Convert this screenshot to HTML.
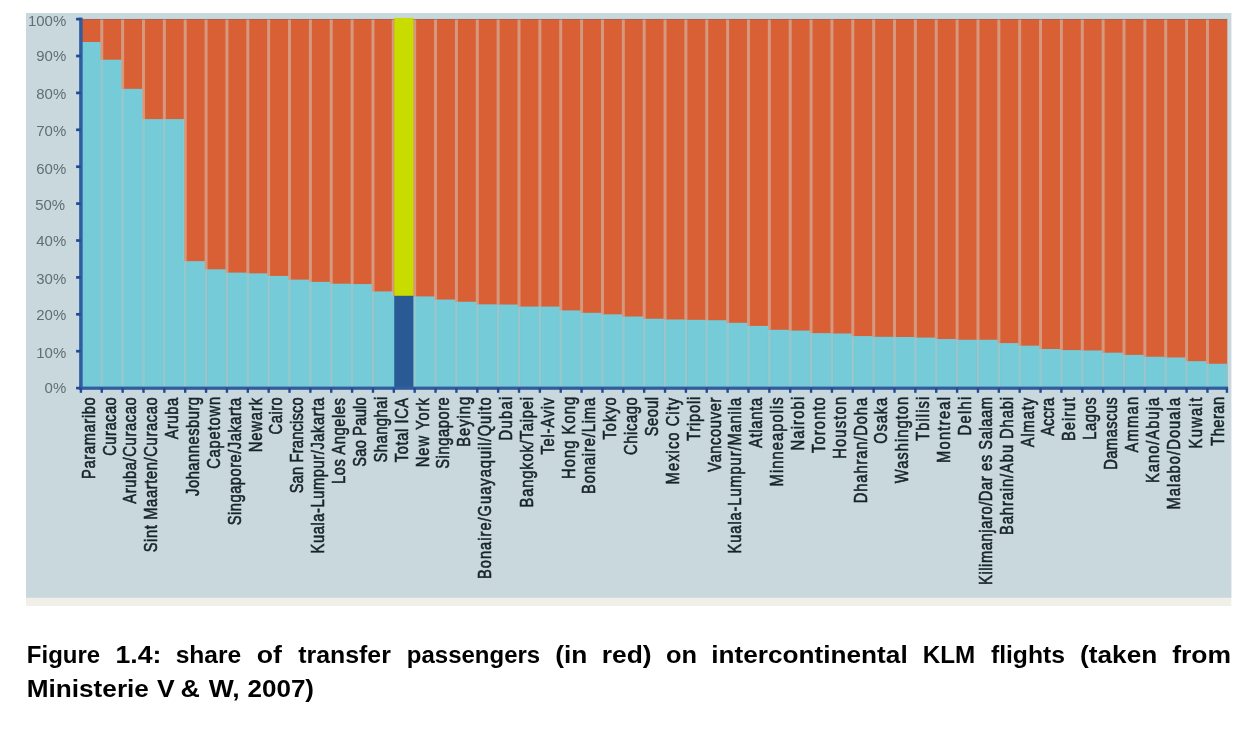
<!DOCTYPE html>
<html lang="en">
<head>
<meta charset="utf-8">
<title>Figure 1.4: share of transfer passengers on intercontinental KLM flights</title>
<style>
html,body{margin:0;padding:0;background:#fff;}
body{width:1255px;height:733px;position:relative;overflow:hidden;font-family:"Liberation Sans",sans-serif;}
svg text{white-space:pre;}
</style>
</head>
<body>
<svg width="1255" height="733" viewBox="0 0 1255 733" style="position:absolute;left:0;top:0;display:block">
<defs><filter id="b" x="-5%" y="-5%" width="110%" height="110%"><feGaussianBlur stdDeviation="0.55"/></filter><filter id="bt" x="-20%" y="-20%" width="140%" height="140%"><feGaussianBlur stdDeviation="0.6"/></filter></defs>
<rect x="26" y="13" width="1205.4" height="584.9" fill="#c8d8dc"/>
<rect x="26" y="597.9" width="1205.4" height="8.1" fill="#f0efe8"/>
<g filter="url(#b)">
<rect x="80.90" y="19.10" width="1146.41" height="369.00" fill="#d95f35"/>
<rect x="80.90" y="41.98" width="19.66" height="346.12" fill="#74cbd8"/>
<rect x="102.96" y="59.69" width="18.46" height="328.41" fill="#74cbd8"/>
<rect x="123.82" y="88.84" width="18.46" height="299.26" fill="#74cbd8"/>
<rect x="144.69" y="119.10" width="18.46" height="269.00" fill="#74cbd8"/>
<rect x="165.55" y="119.10" width="18.46" height="269.00" fill="#74cbd8"/>
<rect x="186.41" y="261.16" width="18.46" height="126.94" fill="#74cbd8"/>
<rect x="207.27" y="269.28" width="18.46" height="118.82" fill="#74cbd8"/>
<rect x="228.13" y="272.60" width="18.46" height="115.50" fill="#74cbd8"/>
<rect x="249.00" y="273.34" width="18.46" height="114.76" fill="#74cbd8"/>
<rect x="269.86" y="275.92" width="18.46" height="112.18" fill="#74cbd8"/>
<rect x="290.72" y="279.61" width="18.46" height="108.49" fill="#74cbd8"/>
<rect x="311.58" y="281.83" width="18.46" height="106.27" fill="#74cbd8"/>
<rect x="332.44" y="283.67" width="18.46" height="104.43" fill="#74cbd8"/>
<rect x="353.31" y="284.04" width="18.46" height="104.06" fill="#74cbd8"/>
<rect x="374.17" y="291.42" width="18.46" height="96.68" fill="#74cbd8"/>
<rect x="415.89" y="296.40" width="18.46" height="91.70" fill="#74cbd8"/>
<rect x="436.75" y="299.54" width="18.46" height="88.56" fill="#74cbd8"/>
<rect x="457.62" y="301.75" width="18.46" height="86.35" fill="#74cbd8"/>
<rect x="478.48" y="304.34" width="18.46" height="83.76" fill="#74cbd8"/>
<rect x="499.34" y="304.52" width="18.46" height="83.58" fill="#74cbd8"/>
<rect x="520.20" y="306.55" width="18.46" height="81.55" fill="#74cbd8"/>
<rect x="541.06" y="306.55" width="18.46" height="81.55" fill="#74cbd8"/>
<rect x="561.93" y="310.39" width="18.46" height="77.71" fill="#74cbd8"/>
<rect x="582.79" y="312.82" width="18.46" height="75.28" fill="#74cbd8"/>
<rect x="603.65" y="314.30" width="18.46" height="73.80" fill="#74cbd8"/>
<rect x="624.51" y="316.51" width="18.46" height="71.59" fill="#74cbd8"/>
<rect x="645.37" y="318.73" width="18.46" height="69.37" fill="#74cbd8"/>
<rect x="666.24" y="319.47" width="18.46" height="68.63" fill="#74cbd8"/>
<rect x="687.10" y="319.84" width="18.46" height="68.26" fill="#74cbd8"/>
<rect x="707.96" y="320.20" width="18.46" height="67.90" fill="#74cbd8"/>
<rect x="728.82" y="322.79" width="18.46" height="65.31" fill="#74cbd8"/>
<rect x="749.68" y="325.92" width="18.46" height="62.18" fill="#74cbd8"/>
<rect x="770.55" y="329.80" width="18.46" height="58.30" fill="#74cbd8"/>
<rect x="791.41" y="330.54" width="18.46" height="57.56" fill="#74cbd8"/>
<rect x="812.27" y="333.12" width="18.46" height="54.98" fill="#74cbd8"/>
<rect x="833.13" y="333.49" width="18.46" height="54.61" fill="#74cbd8"/>
<rect x="853.99" y="336.07" width="18.46" height="52.03" fill="#74cbd8"/>
<rect x="874.86" y="336.81" width="18.46" height="51.29" fill="#74cbd8"/>
<rect x="895.72" y="336.99" width="18.46" height="51.11" fill="#74cbd8"/>
<rect x="916.58" y="337.55" width="18.46" height="50.55" fill="#74cbd8"/>
<rect x="937.44" y="339.02" width="18.46" height="49.08" fill="#74cbd8"/>
<rect x="958.30" y="339.76" width="18.46" height="48.34" fill="#74cbd8"/>
<rect x="979.17" y="339.76" width="18.46" height="48.34" fill="#74cbd8"/>
<rect x="1000.03" y="343.08" width="18.46" height="45.02" fill="#74cbd8"/>
<rect x="1020.89" y="345.67" width="18.46" height="42.44" fill="#74cbd8"/>
<rect x="1041.75" y="348.99" width="18.46" height="39.11" fill="#74cbd8"/>
<rect x="1062.61" y="350.09" width="18.46" height="38.01" fill="#74cbd8"/>
<rect x="1083.48" y="350.46" width="18.46" height="37.64" fill="#74cbd8"/>
<rect x="1104.34" y="352.68" width="18.46" height="35.42" fill="#74cbd8"/>
<rect x="1125.20" y="354.89" width="18.46" height="33.21" fill="#74cbd8"/>
<rect x="1146.06" y="356.74" width="18.46" height="31.37" fill="#74cbd8"/>
<rect x="1166.92" y="357.47" width="18.46" height="30.63" fill="#74cbd8"/>
<rect x="1187.79" y="361.16" width="18.46" height="26.94" fill="#74cbd8"/>
<rect x="1208.65" y="363.75" width="18.66" height="24.35" fill="#74cbd8"/>
<rect x="99.96" y="59.69" width="3.60" height="328.41" fill="#74cbd8"/>
<rect x="100.26" y="19.10" width="3.0" height="40.59" fill="rgba(210,212,204,0.5)"/>
<rect x="100.56" y="59.69" width="2.4" height="328.41" fill="rgba(190,195,190,0.45)"/>
<rect x="120.82" y="88.84" width="3.60" height="299.26" fill="#74cbd8"/>
<rect x="121.12" y="19.10" width="3.0" height="69.74" fill="rgba(210,212,204,0.5)"/>
<rect x="121.42" y="88.84" width="2.4" height="299.26" fill="rgba(190,195,190,0.45)"/>
<rect x="141.69" y="119.10" width="3.60" height="269.00" fill="#74cbd8"/>
<rect x="141.99" y="19.10" width="3.0" height="100.00" fill="rgba(210,212,204,0.5)"/>
<rect x="142.29" y="119.10" width="2.4" height="269.00" fill="rgba(190,195,190,0.45)"/>
<rect x="162.55" y="119.10" width="3.60" height="269.00" fill="#74cbd8"/>
<rect x="162.85" y="19.10" width="3.0" height="100.00" fill="rgba(210,212,204,0.5)"/>
<rect x="163.15" y="119.10" width="2.4" height="269.00" fill="rgba(190,195,190,0.45)"/>
<rect x="183.41" y="261.16" width="3.60" height="126.94" fill="#74cbd8"/>
<rect x="183.71" y="19.10" width="3.0" height="242.06" fill="rgba(210,212,204,0.5)"/>
<rect x="184.01" y="261.16" width="2.4" height="126.94" fill="rgba(190,195,190,0.45)"/>
<rect x="204.27" y="269.28" width="3.60" height="118.82" fill="#74cbd8"/>
<rect x="204.57" y="19.10" width="3.0" height="250.18" fill="rgba(210,212,204,0.5)"/>
<rect x="204.87" y="269.28" width="2.4" height="118.82" fill="rgba(190,195,190,0.45)"/>
<rect x="225.13" y="272.60" width="3.60" height="115.50" fill="#74cbd8"/>
<rect x="225.43" y="19.10" width="3.0" height="253.50" fill="rgba(210,212,204,0.5)"/>
<rect x="225.73" y="272.60" width="2.4" height="115.50" fill="rgba(190,195,190,0.45)"/>
<rect x="246.00" y="273.34" width="3.60" height="114.76" fill="#74cbd8"/>
<rect x="246.30" y="19.10" width="3.0" height="254.24" fill="rgba(210,212,204,0.5)"/>
<rect x="246.60" y="273.34" width="2.4" height="114.76" fill="rgba(190,195,190,0.45)"/>
<rect x="266.86" y="275.92" width="3.60" height="112.18" fill="#74cbd8"/>
<rect x="267.16" y="19.10" width="3.0" height="256.82" fill="rgba(210,212,204,0.5)"/>
<rect x="267.46" y="275.92" width="2.4" height="112.18" fill="rgba(190,195,190,0.45)"/>
<rect x="287.72" y="279.61" width="3.60" height="108.49" fill="#74cbd8"/>
<rect x="288.02" y="19.10" width="3.0" height="260.51" fill="rgba(210,212,204,0.5)"/>
<rect x="288.32" y="279.61" width="2.4" height="108.49" fill="rgba(190,195,190,0.45)"/>
<rect x="308.58" y="281.83" width="3.60" height="106.27" fill="#74cbd8"/>
<rect x="308.88" y="19.10" width="3.0" height="262.73" fill="rgba(210,212,204,0.5)"/>
<rect x="309.18" y="281.83" width="2.4" height="106.27" fill="rgba(190,195,190,0.45)"/>
<rect x="329.44" y="283.67" width="3.60" height="104.43" fill="#74cbd8"/>
<rect x="329.74" y="19.10" width="3.0" height="264.57" fill="rgba(210,212,204,0.5)"/>
<rect x="330.04" y="283.67" width="2.4" height="104.43" fill="rgba(190,195,190,0.45)"/>
<rect x="350.31" y="284.04" width="3.60" height="104.06" fill="#74cbd8"/>
<rect x="350.61" y="19.10" width="3.0" height="264.94" fill="rgba(210,212,204,0.5)"/>
<rect x="350.91" y="284.04" width="2.4" height="104.06" fill="rgba(190,195,190,0.45)"/>
<rect x="371.17" y="291.42" width="3.60" height="96.68" fill="#74cbd8"/>
<rect x="371.47" y="19.10" width="3.0" height="272.32" fill="rgba(210,212,204,0.5)"/>
<rect x="371.77" y="291.42" width="2.4" height="96.68" fill="rgba(190,195,190,0.45)"/>
<rect x="392.03" y="295.85" width="3.60" height="92.25" fill="#74cbd8"/>
<rect x="391.73" y="19.10" width="2.4" height="276.75" fill="rgba(210,212,204,0.5)"/>
<rect x="412.89" y="296.40" width="3.60" height="91.70" fill="#74cbd8"/>
<rect x="413.19" y="19.10" width="3.0" height="277.30" fill="rgba(210,212,204,0.5)"/>
<rect x="413.49" y="296.40" width="2.4" height="91.70" fill="rgba(190,195,190,0.45)"/>
<rect x="433.75" y="299.54" width="3.60" height="88.56" fill="#74cbd8"/>
<rect x="434.05" y="19.10" width="3.0" height="280.44" fill="rgba(210,212,204,0.5)"/>
<rect x="434.35" y="299.54" width="2.4" height="88.56" fill="rgba(190,195,190,0.45)"/>
<rect x="454.62" y="301.75" width="3.60" height="86.35" fill="#74cbd8"/>
<rect x="454.92" y="19.10" width="3.0" height="282.65" fill="rgba(210,212,204,0.5)"/>
<rect x="455.22" y="301.75" width="2.4" height="86.35" fill="rgba(190,195,190,0.45)"/>
<rect x="475.48" y="304.34" width="3.60" height="83.76" fill="#74cbd8"/>
<rect x="475.78" y="19.10" width="3.0" height="285.24" fill="rgba(210,212,204,0.5)"/>
<rect x="476.08" y="304.34" width="2.4" height="83.76" fill="rgba(190,195,190,0.45)"/>
<rect x="496.34" y="304.52" width="3.60" height="83.58" fill="#74cbd8"/>
<rect x="496.64" y="19.10" width="3.0" height="285.42" fill="rgba(210,212,204,0.5)"/>
<rect x="496.94" y="304.52" width="2.4" height="83.58" fill="rgba(190,195,190,0.45)"/>
<rect x="517.20" y="306.55" width="3.60" height="81.55" fill="#74cbd8"/>
<rect x="517.50" y="19.10" width="3.0" height="287.45" fill="rgba(210,212,204,0.5)"/>
<rect x="517.80" y="306.55" width="2.4" height="81.55" fill="rgba(190,195,190,0.45)"/>
<rect x="538.06" y="306.55" width="3.60" height="81.55" fill="#74cbd8"/>
<rect x="538.36" y="19.10" width="3.0" height="287.45" fill="rgba(210,212,204,0.5)"/>
<rect x="538.66" y="306.55" width="2.4" height="81.55" fill="rgba(190,195,190,0.45)"/>
<rect x="558.93" y="310.39" width="3.60" height="77.71" fill="#74cbd8"/>
<rect x="559.23" y="19.10" width="3.0" height="291.29" fill="rgba(210,212,204,0.5)"/>
<rect x="559.53" y="310.39" width="2.4" height="77.71" fill="rgba(190,195,190,0.45)"/>
<rect x="579.79" y="312.82" width="3.60" height="75.28" fill="#74cbd8"/>
<rect x="580.09" y="19.10" width="3.0" height="293.72" fill="rgba(210,212,204,0.5)"/>
<rect x="580.39" y="312.82" width="2.4" height="75.28" fill="rgba(190,195,190,0.45)"/>
<rect x="600.65" y="314.30" width="3.60" height="73.80" fill="#74cbd8"/>
<rect x="600.95" y="19.10" width="3.0" height="295.20" fill="rgba(210,212,204,0.5)"/>
<rect x="601.25" y="314.30" width="2.4" height="73.80" fill="rgba(190,195,190,0.45)"/>
<rect x="621.51" y="316.51" width="3.60" height="71.59" fill="#74cbd8"/>
<rect x="621.81" y="19.10" width="3.0" height="297.41" fill="rgba(210,212,204,0.5)"/>
<rect x="622.11" y="316.51" width="2.4" height="71.59" fill="rgba(190,195,190,0.45)"/>
<rect x="642.37" y="318.73" width="3.60" height="69.37" fill="#74cbd8"/>
<rect x="642.67" y="19.10" width="3.0" height="299.63" fill="rgba(210,212,204,0.5)"/>
<rect x="642.97" y="318.73" width="2.4" height="69.37" fill="rgba(190,195,190,0.45)"/>
<rect x="663.24" y="319.47" width="3.60" height="68.63" fill="#74cbd8"/>
<rect x="663.54" y="19.10" width="3.0" height="300.37" fill="rgba(210,212,204,0.5)"/>
<rect x="663.84" y="319.47" width="2.4" height="68.63" fill="rgba(190,195,190,0.45)"/>
<rect x="684.10" y="319.84" width="3.60" height="68.26" fill="#74cbd8"/>
<rect x="684.40" y="19.10" width="3.0" height="300.74" fill="rgba(210,212,204,0.5)"/>
<rect x="684.70" y="319.84" width="2.4" height="68.26" fill="rgba(190,195,190,0.45)"/>
<rect x="704.96" y="320.20" width="3.60" height="67.90" fill="#74cbd8"/>
<rect x="705.26" y="19.10" width="3.0" height="301.10" fill="rgba(210,212,204,0.5)"/>
<rect x="705.56" y="320.20" width="2.4" height="67.90" fill="rgba(190,195,190,0.45)"/>
<rect x="725.82" y="322.79" width="3.60" height="65.31" fill="#74cbd8"/>
<rect x="726.12" y="19.10" width="3.0" height="303.69" fill="rgba(210,212,204,0.5)"/>
<rect x="726.42" y="322.79" width="2.4" height="65.31" fill="rgba(190,195,190,0.45)"/>
<rect x="746.68" y="325.92" width="3.60" height="62.18" fill="#74cbd8"/>
<rect x="746.98" y="19.10" width="3.0" height="306.82" fill="rgba(210,212,204,0.5)"/>
<rect x="747.28" y="325.92" width="2.4" height="62.18" fill="rgba(190,195,190,0.45)"/>
<rect x="767.55" y="329.80" width="3.60" height="58.30" fill="#74cbd8"/>
<rect x="767.85" y="19.10" width="3.0" height="310.70" fill="rgba(210,212,204,0.5)"/>
<rect x="768.15" y="329.80" width="2.4" height="58.30" fill="rgba(190,195,190,0.45)"/>
<rect x="788.41" y="330.54" width="3.60" height="57.56" fill="#74cbd8"/>
<rect x="788.71" y="19.10" width="3.0" height="311.44" fill="rgba(210,212,204,0.5)"/>
<rect x="789.01" y="330.54" width="2.4" height="57.56" fill="rgba(190,195,190,0.45)"/>
<rect x="809.27" y="333.12" width="3.60" height="54.98" fill="#74cbd8"/>
<rect x="809.57" y="19.10" width="3.0" height="314.02" fill="rgba(210,212,204,0.5)"/>
<rect x="809.87" y="333.12" width="2.4" height="54.98" fill="rgba(190,195,190,0.45)"/>
<rect x="830.13" y="333.49" width="3.60" height="54.61" fill="#74cbd8"/>
<rect x="830.43" y="19.10" width="3.0" height="314.39" fill="rgba(210,212,204,0.5)"/>
<rect x="830.73" y="333.49" width="2.4" height="54.61" fill="rgba(190,195,190,0.45)"/>
<rect x="850.99" y="336.07" width="3.60" height="52.03" fill="#74cbd8"/>
<rect x="851.29" y="19.10" width="3.0" height="316.97" fill="rgba(210,212,204,0.5)"/>
<rect x="851.59" y="336.07" width="2.4" height="52.03" fill="rgba(190,195,190,0.45)"/>
<rect x="871.86" y="336.81" width="3.60" height="51.29" fill="#74cbd8"/>
<rect x="872.16" y="19.10" width="3.0" height="317.71" fill="rgba(210,212,204,0.5)"/>
<rect x="872.46" y="336.81" width="2.4" height="51.29" fill="rgba(190,195,190,0.45)"/>
<rect x="892.72" y="336.99" width="3.60" height="51.11" fill="#74cbd8"/>
<rect x="893.02" y="19.10" width="3.0" height="317.89" fill="rgba(210,212,204,0.5)"/>
<rect x="893.32" y="336.99" width="2.4" height="51.11" fill="rgba(190,195,190,0.45)"/>
<rect x="913.58" y="337.55" width="3.60" height="50.55" fill="#74cbd8"/>
<rect x="913.88" y="19.10" width="3.0" height="318.45" fill="rgba(210,212,204,0.5)"/>
<rect x="914.18" y="337.55" width="2.4" height="50.55" fill="rgba(190,195,190,0.45)"/>
<rect x="934.44" y="339.02" width="3.60" height="49.08" fill="#74cbd8"/>
<rect x="934.74" y="19.10" width="3.0" height="319.92" fill="rgba(210,212,204,0.5)"/>
<rect x="935.04" y="339.02" width="2.4" height="49.08" fill="rgba(190,195,190,0.45)"/>
<rect x="955.30" y="339.76" width="3.60" height="48.34" fill="#74cbd8"/>
<rect x="955.60" y="19.10" width="3.0" height="320.66" fill="rgba(210,212,204,0.5)"/>
<rect x="955.90" y="339.76" width="2.4" height="48.34" fill="rgba(190,195,190,0.45)"/>
<rect x="976.17" y="339.76" width="3.60" height="48.34" fill="#74cbd8"/>
<rect x="976.47" y="19.10" width="3.0" height="320.66" fill="rgba(210,212,204,0.5)"/>
<rect x="976.77" y="339.76" width="2.4" height="48.34" fill="rgba(190,195,190,0.45)"/>
<rect x="997.03" y="343.08" width="3.60" height="45.02" fill="#74cbd8"/>
<rect x="997.33" y="19.10" width="3.0" height="323.98" fill="rgba(210,212,204,0.5)"/>
<rect x="997.63" y="343.08" width="2.4" height="45.02" fill="rgba(190,195,190,0.45)"/>
<rect x="1017.89" y="345.67" width="3.60" height="42.44" fill="#74cbd8"/>
<rect x="1018.19" y="19.10" width="3.0" height="326.56" fill="rgba(210,212,204,0.5)"/>
<rect x="1018.49" y="345.67" width="2.4" height="42.44" fill="rgba(190,195,190,0.45)"/>
<rect x="1038.75" y="348.99" width="3.60" height="39.11" fill="#74cbd8"/>
<rect x="1039.05" y="19.10" width="3.0" height="329.89" fill="rgba(210,212,204,0.5)"/>
<rect x="1039.35" y="348.99" width="2.4" height="39.11" fill="rgba(190,195,190,0.45)"/>
<rect x="1059.61" y="350.09" width="3.60" height="38.01" fill="#74cbd8"/>
<rect x="1059.91" y="19.10" width="3.0" height="330.99" fill="rgba(210,212,204,0.5)"/>
<rect x="1060.21" y="350.09" width="2.4" height="38.01" fill="rgba(190,195,190,0.45)"/>
<rect x="1080.48" y="350.46" width="3.60" height="37.64" fill="#74cbd8"/>
<rect x="1080.78" y="19.10" width="3.0" height="331.36" fill="rgba(210,212,204,0.5)"/>
<rect x="1081.08" y="350.46" width="2.4" height="37.64" fill="rgba(190,195,190,0.45)"/>
<rect x="1101.34" y="352.68" width="3.60" height="35.42" fill="#74cbd8"/>
<rect x="1101.64" y="19.10" width="3.0" height="333.58" fill="rgba(210,212,204,0.5)"/>
<rect x="1101.94" y="352.68" width="2.4" height="35.42" fill="rgba(190,195,190,0.45)"/>
<rect x="1122.20" y="354.89" width="3.60" height="33.21" fill="#74cbd8"/>
<rect x="1122.50" y="19.10" width="3.0" height="335.79" fill="rgba(210,212,204,0.5)"/>
<rect x="1122.80" y="354.89" width="2.4" height="33.21" fill="rgba(190,195,190,0.45)"/>
<rect x="1143.06" y="356.74" width="3.60" height="31.37" fill="#74cbd8"/>
<rect x="1143.36" y="19.10" width="3.0" height="337.63" fill="rgba(210,212,204,0.5)"/>
<rect x="1143.66" y="356.74" width="2.4" height="31.37" fill="rgba(190,195,190,0.45)"/>
<rect x="1163.92" y="357.47" width="3.60" height="30.63" fill="#74cbd8"/>
<rect x="1164.22" y="19.10" width="3.0" height="338.37" fill="rgba(210,212,204,0.5)"/>
<rect x="1164.52" y="357.47" width="2.4" height="30.63" fill="rgba(190,195,190,0.45)"/>
<rect x="1184.79" y="361.16" width="3.60" height="26.94" fill="#74cbd8"/>
<rect x="1185.09" y="19.10" width="3.0" height="342.06" fill="rgba(210,212,204,0.5)"/>
<rect x="1185.39" y="361.16" width="2.4" height="26.94" fill="rgba(190,195,190,0.45)"/>
<rect x="1205.65" y="363.75" width="3.60" height="24.35" fill="#74cbd8"/>
<rect x="1205.95" y="19.10" width="3.0" height="344.65" fill="rgba(210,212,204,0.5)"/>
<rect x="1206.25" y="363.75" width="2.4" height="24.35" fill="rgba(190,195,190,0.45)"/>
<rect x="80.90" y="18.90" width="1146.41" height="1.1" fill="rgba(110,90,100,0.45)"/>
<rect x="394.23" y="17.90" width="19.16" height="277.95" fill="#c9dc00"/>
<rect x="394.23" y="295.85" width="19.16" height="92.25" fill="#2c5a96"/>
<rect x="79.15" y="17.60" width="3.5" height="372.20" fill="#315c9e"/>
<rect x="79.15" y="386.60" width="1148.96" height="3.2" fill="#315c9e"/>
<rect x="76.10" y="386.75" width="4.6" height="2.7" fill="#244a92"/>
<rect x="76.10" y="349.85" width="4.6" height="2.7" fill="#244a92"/>
<rect x="76.10" y="312.95" width="4.6" height="2.7" fill="#244a92"/>
<rect x="76.10" y="276.05" width="4.6" height="2.7" fill="#244a92"/>
<rect x="76.10" y="239.15" width="4.6" height="2.7" fill="#244a92"/>
<rect x="76.10" y="202.25" width="4.6" height="2.7" fill="#244a92"/>
<rect x="76.10" y="165.35" width="4.6" height="2.7" fill="#244a92"/>
<rect x="76.10" y="128.45" width="4.6" height="2.7" fill="#244a92"/>
<rect x="76.10" y="91.55" width="4.6" height="2.7" fill="#244a92"/>
<rect x="76.10" y="54.65" width="4.6" height="2.7" fill="#244a92"/>
<rect x="76.10" y="17.75" width="4.6" height="2.7" fill="#244a92"/>
<rect x="79.70" y="388.10" width="2.4" height="4.7" fill="#244a92"/>
<rect x="100.56" y="388.10" width="2.4" height="4.7" fill="#244a92"/>
<rect x="121.42" y="388.10" width="2.4" height="4.7" fill="#244a92"/>
<rect x="142.29" y="388.10" width="2.4" height="4.7" fill="#244a92"/>
<rect x="163.15" y="388.10" width="2.4" height="4.7" fill="#244a92"/>
<rect x="184.01" y="388.10" width="2.4" height="4.7" fill="#244a92"/>
<rect x="204.87" y="388.10" width="2.4" height="4.7" fill="#244a92"/>
<rect x="225.73" y="388.10" width="2.4" height="4.7" fill="#244a92"/>
<rect x="246.60" y="388.10" width="2.4" height="4.7" fill="#244a92"/>
<rect x="267.46" y="388.10" width="2.4" height="4.7" fill="#244a92"/>
<rect x="288.32" y="388.10" width="2.4" height="4.7" fill="#244a92"/>
<rect x="309.18" y="388.10" width="2.4" height="4.7" fill="#244a92"/>
<rect x="330.04" y="388.10" width="2.4" height="4.7" fill="#244a92"/>
<rect x="350.91" y="388.10" width="2.4" height="4.7" fill="#244a92"/>
<rect x="371.77" y="388.10" width="2.4" height="4.7" fill="#244a92"/>
<rect x="392.63" y="388.10" width="2.4" height="4.7" fill="#244a92"/>
<rect x="413.49" y="388.10" width="2.4" height="4.7" fill="#244a92"/>
<rect x="434.35" y="388.10" width="2.4" height="4.7" fill="#244a92"/>
<rect x="455.22" y="388.10" width="2.4" height="4.7" fill="#244a92"/>
<rect x="476.08" y="388.10" width="2.4" height="4.7" fill="#244a92"/>
<rect x="496.94" y="388.10" width="2.4" height="4.7" fill="#244a92"/>
<rect x="517.80" y="388.10" width="2.4" height="4.7" fill="#244a92"/>
<rect x="538.66" y="388.10" width="2.4" height="4.7" fill="#244a92"/>
<rect x="559.53" y="388.10" width="2.4" height="4.7" fill="#244a92"/>
<rect x="580.39" y="388.10" width="2.4" height="4.7" fill="#244a92"/>
<rect x="601.25" y="388.10" width="2.4" height="4.7" fill="#244a92"/>
<rect x="622.11" y="388.10" width="2.4" height="4.7" fill="#244a92"/>
<rect x="642.97" y="388.10" width="2.4" height="4.7" fill="#244a92"/>
<rect x="663.84" y="388.10" width="2.4" height="4.7" fill="#244a92"/>
<rect x="684.70" y="388.10" width="2.4" height="4.7" fill="#244a92"/>
<rect x="705.56" y="388.10" width="2.4" height="4.7" fill="#244a92"/>
<rect x="726.42" y="388.10" width="2.4" height="4.7" fill="#244a92"/>
<rect x="747.28" y="388.10" width="2.4" height="4.7" fill="#244a92"/>
<rect x="768.15" y="388.10" width="2.4" height="4.7" fill="#244a92"/>
<rect x="789.01" y="388.10" width="2.4" height="4.7" fill="#244a92"/>
<rect x="809.87" y="388.10" width="2.4" height="4.7" fill="#244a92"/>
<rect x="830.73" y="388.10" width="2.4" height="4.7" fill="#244a92"/>
<rect x="851.59" y="388.10" width="2.4" height="4.7" fill="#244a92"/>
<rect x="872.46" y="388.10" width="2.4" height="4.7" fill="#244a92"/>
<rect x="893.32" y="388.10" width="2.4" height="4.7" fill="#244a92"/>
<rect x="914.18" y="388.10" width="2.4" height="4.7" fill="#244a92"/>
<rect x="935.04" y="388.10" width="2.4" height="4.7" fill="#244a92"/>
<rect x="955.90" y="388.10" width="2.4" height="4.7" fill="#244a92"/>
<rect x="976.77" y="388.10" width="2.4" height="4.7" fill="#244a92"/>
<rect x="997.63" y="388.10" width="2.4" height="4.7" fill="#244a92"/>
<rect x="1018.49" y="388.10" width="2.4" height="4.7" fill="#244a92"/>
<rect x="1039.35" y="388.10" width="2.4" height="4.7" fill="#244a92"/>
<rect x="1060.21" y="388.10" width="2.4" height="4.7" fill="#244a92"/>
<rect x="1081.08" y="388.10" width="2.4" height="4.7" fill="#244a92"/>
<rect x="1101.94" y="388.10" width="2.4" height="4.7" fill="#244a92"/>
<rect x="1122.80" y="388.10" width="2.4" height="4.7" fill="#244a92"/>
<rect x="1143.66" y="388.10" width="2.4" height="4.7" fill="#244a92"/>
<rect x="1164.52" y="388.10" width="2.4" height="4.7" fill="#244a92"/>
<rect x="1185.39" y="388.10" width="2.4" height="4.7" fill="#244a92"/>
<rect x="1206.25" y="388.10" width="2.4" height="4.7" fill="#244a92"/>
<rect x="1225.71" y="388.10" width="2.4" height="4.7" fill="#244a92"/>
</g>
<g font-family="'Liberation Sans', sans-serif" font-size="15.2" fill="#5f6f75" filter="url(#bt)">
<text transform="translate(44.57 393.40) scale(0.9850 1)">0%</text>
<text transform="translate(36.25 357.80) scale(0.9850 1)">10%</text>
<text transform="translate(36.25 320.00) scale(0.9850 1)">20%</text>
<text transform="translate(36.25 283.70) scale(0.9850 1)">30%</text>
<text transform="translate(36.25 246.40) scale(0.9850 1)">40%</text>
<text transform="translate(35.15 210.00) scale(0.9850 1)">50%</text>
<text transform="translate(36.25 174.00) scale(0.9850 1)">60%</text>
<text transform="translate(36.25 135.70) scale(0.9850 1)">70%</text>
<text transform="translate(36.25 98.53) scale(0.9850 1)">80%</text>
<text transform="translate(36.25 61.20) scale(0.9850 1)">90%</text>
<text transform="translate(27.92 25.90) scale(0.9850 1)">100%</text>
</g>
<g font-family="'Liberation Sans', sans-serif" font-size="18.6" font-weight="normal" fill="#16232a" stroke="#16232a" stroke-width="0.6" filter="url(#bt)">
<text transform="translate(94.73 478.88) rotate(-90) scale(0.7900 1)" letter-spacing="0.806">Paramaribo</text>
<text transform="translate(115.59 455.83) rotate(-90) scale(0.7900 1)" letter-spacing="0.654">Curacao</text>
<text transform="translate(136.46 503.80) rotate(-90) scale(0.7900 1)" letter-spacing="0.820">Aruba/Curacao</text>
<text transform="translate(157.32 552.36) rotate(-90) scale(0.7900 1)" letter-spacing="0.815">Sint Maarten/Curacao</text>
<text transform="translate(178.18 439.30) rotate(-90) scale(0.7900 1)" letter-spacing="0.707">Aruba</text>
<text transform="translate(199.04 495.92) rotate(-90) scale(0.7900 1)" letter-spacing="0.677">Johannesburg</text>
<text transform="translate(219.90 468.83) rotate(-90) scale(0.7900 1)" letter-spacing="1.043">Capetown</text>
<text transform="translate(240.76 525.26) rotate(-90) scale(0.7900 1)" letter-spacing="0.644">Singapore/Jakarta</text>
<text transform="translate(261.63 452.28) rotate(-90) scale(0.7900 1)" letter-spacing="1.163">Newark</text>
<text transform="translate(282.49 434.43) rotate(-90) scale(0.7900 1)" letter-spacing="0.673">Cairo</text>
<text transform="translate(303.35 493.36) rotate(-90) scale(0.7900 1)" letter-spacing="0.237">San Francisco</text>
<text transform="translate(324.21 553.38) rotate(-90) scale(0.7900 1)" letter-spacing="0.730">Kuala-Lumpur/Jakarta</text>
<text transform="translate(345.07 483.88) rotate(-90) scale(0.7900 1)" letter-spacing="0.723">Los Angeles</text>
<text transform="translate(365.94 466.76) rotate(-90) scale(0.7900 1)" letter-spacing="0.278">Sao Paulo</text>
<text transform="translate(386.80 462.56) rotate(-90) scale(0.7900 1)" letter-spacing="0.660">Shanghai</text>
<text transform="translate(407.66 462.19) rotate(-90) scale(0.7900 1)" letter-spacing="0.749">Total ICA</text>
<text transform="translate(428.52 467.28) rotate(-90) scale(0.7900 1)" letter-spacing="1.277">New York</text>
<text transform="translate(449.38 468.76) rotate(-90) scale(0.7900 1)" letter-spacing="0.724">Singapore</text>
<text transform="translate(470.25 446.68) rotate(-90) scale(0.7900 1)" letter-spacing="1.227">Beying</text>
<text transform="translate(491.11 578.98) rotate(-90) scale(0.7900 1)" letter-spacing="1.248">Bonaire/Guayaquil/Quito</text>
<text transform="translate(511.97 440.48) rotate(-90) scale(0.7900 1)" letter-spacing="1.668">Dubai</text>
<text transform="translate(532.83 507.48) rotate(-90) scale(0.7900 1)" letter-spacing="1.072">Bangkok/Taipei</text>
<text transform="translate(553.69 454.59) rotate(-90) scale(0.7900 1)" letter-spacing="1.017">Tel-Aviv</text>
<text transform="translate(574.56 478.88) rotate(-90) scale(0.7900 1)" letter-spacing="1.337">Hong Kong</text>
<text transform="translate(595.42 493.88) rotate(-90) scale(0.7900 1)" letter-spacing="1.086">Bonaire/Lima</text>
<text transform="translate(616.28 439.59) rotate(-90) scale(0.7900 1)" letter-spacing="1.270">Tokyo</text>
<text transform="translate(637.14 455.03) rotate(-90) scale(0.7900 1)" letter-spacing="0.829">Chicago</text>
<text transform="translate(658.00 436.16) rotate(-90) scale(0.7900 1)" letter-spacing="0.536">Seoul</text>
<text transform="translate(678.87 484.38) rotate(-90) scale(0.7900 1)" letter-spacing="1.347">Mexico City</text>
<text transform="translate(699.73 440.79) rotate(-90) scale(0.7900 1)" letter-spacing="0.953">Tripoli</text>
<text transform="translate(720.59 471.90) rotate(-90) scale(0.7900 1)" letter-spacing="0.812">Vancouver</text>
<text transform="translate(741.45 553.38) rotate(-90) scale(0.7900 1)" letter-spacing="1.115">Kuala-Lumpur/Manila</text>
<text transform="translate(762.31 448.00) rotate(-90) scale(0.7900 1)" letter-spacing="0.928">Atlanta</text>
<text transform="translate(783.18 486.38) rotate(-90) scale(0.7900 1)" letter-spacing="1.351">Minneapolis</text>
<text transform="translate(804.04 450.48) rotate(-90) scale(0.7900 1)" letter-spacing="1.500">Nairobi</text>
<text transform="translate(824.90 452.89) rotate(-90) scale(0.7900 1)" letter-spacing="1.411">Toronto</text>
<text transform="translate(845.76 458.78) rotate(-90) scale(0.7900 1)" letter-spacing="1.507">Houston</text>
<text transform="translate(866.62 503.18) rotate(-90) scale(0.7900 1)" letter-spacing="1.121">Dhahran/Doha</text>
<text transform="translate(887.49 443.66) rotate(-90) scale(0.7900 1)" letter-spacing="1.056">Osaka</text>
<text transform="translate(908.35 483.20) rotate(-90) scale(0.7900 1)" letter-spacing="1.301">Washington</text>
<text transform="translate(929.21 440.79) rotate(-90) scale(0.7900 1)" letter-spacing="1.356">Tbilisi</text>
<text transform="translate(950.07 463.08) rotate(-90) scale(0.7900 1)" letter-spacing="1.631">Montreal</text>
<text transform="translate(970.93 435.38) rotate(-90) scale(0.7900 1)" letter-spacing="1.607">Delhi</text>
<text transform="translate(991.80 584.98) rotate(-90) scale(0.7900 1)" letter-spacing="0.747">Kilimanjaro/Dar es Salaam</text>
<text transform="translate(1012.66 534.98) rotate(-90) scale(0.7900 1)" letter-spacing="1.172">Bahrain/Abu Dhabi</text>
<text transform="translate(1033.52 447.30) rotate(-90) scale(0.7900 1)" letter-spacing="1.163">Almaty</text>
<text transform="translate(1054.38 436.00) rotate(-90) scale(0.7900 1)" letter-spacing="0.185">Accra</text>
<text transform="translate(1075.25 440.98) rotate(-90) scale(0.7900 1)" letter-spacing="1.223">Beirut</text>
<text transform="translate(1096.11 439.68) rotate(-90) scale(0.7900 1)" letter-spacing="0.745">Lagos</text>
<text transform="translate(1116.97 469.78) rotate(-90) scale(0.7900 1)" letter-spacing="0.557">Damascus</text>
<text transform="translate(1137.83 452.60) rotate(-90) scale(0.7900 1)" letter-spacing="1.605">Amman</text>
<text transform="translate(1158.69 483.08) rotate(-90) scale(0.7900 1)" letter-spacing="1.299">Kano/Abuja</text>
<text transform="translate(1179.56 509.48) rotate(-90) scale(0.7900 1)" letter-spacing="1.348">Malabo/Douala</text>
<text transform="translate(1201.82 448.48) rotate(-90) scale(0.7900 1)" letter-spacing="1.674">Kuwait</text>
<text transform="translate(1223.88 445.79) rotate(-90) scale(0.7900 1)" letter-spacing="0.591">Theran</text>
</g>
<g font-family="'Liberation Sans', sans-serif" font-weight="bold" font-size="24.8" fill="#000">
<text transform="translate(26.84 663.20) scale(0.9674 1)">Figure</text>
<text transform="translate(115.40 663.20) scale(1.0760 1)">1.4:</text>
<text transform="translate(175.64 663.20) scale(0.9917 1)">share</text>
<text transform="translate(256.67 663.20) scale(1.0758 1)">of</text>
<text transform="translate(298.25 663.20) scale(1.0028 1)">transfer</text>
<text transform="translate(406.84 663.20) scale(0.9679 1)">passengers</text>
<text transform="translate(555.32 663.20) scale(1.0588 1)">(in</text>
<text transform="translate(601.78 663.20) scale(1.0647 1)">red)</text>
<text transform="translate(666.11 663.20) scale(1.0243 1)">on</text>
<text transform="translate(711.20 663.20) scale(1.0568 1)">intercontinental</text>
<text transform="translate(922.72 663.20) scale(0.9774 1)">KLM</text>
<text transform="translate(990.93 663.20) scale(0.9956 1)">flights</text>
<text transform="translate(1080.02 663.20) scale(1.0580 1)">(taken</text>
<text transform="translate(1172.20 663.20) scale(1.0681 1)">from</text>
<text transform="translate(26.70 697.40) scale(1.0557 1)">Ministerie</text>
<text transform="translate(157.07 697.40) scale(1.0692 1)">V</text>
<text transform="translate(180.43 697.40) scale(1.0835 1)">&amp;</text>
<text transform="translate(208.70 697.40) scale(1.0705 1)">W,</text>
<text transform="translate(247.52 697.40) scale(1.0489 1)">2007)</text>
</g>
</svg>
</body>
</html>
